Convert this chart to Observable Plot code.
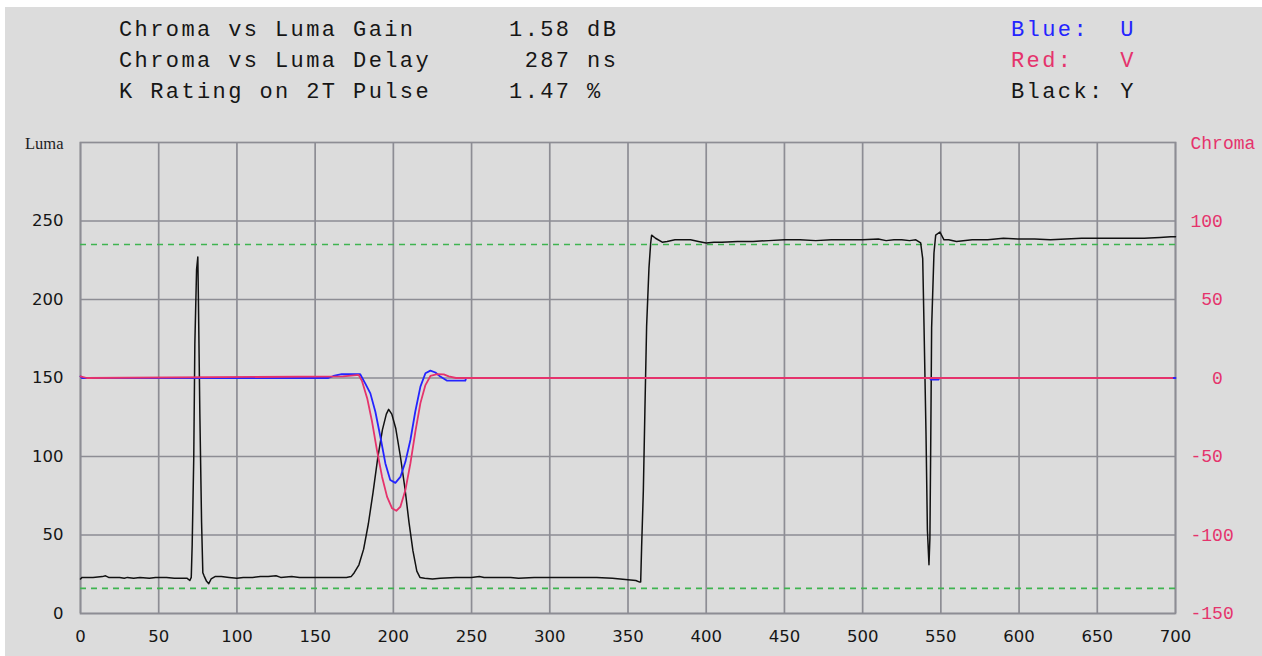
<!DOCTYPE html>
<html>
<head>
<meta charset="utf-8">
<script src="https://cdn.jsdelivr.net/npm/d3@7"></script>
<script src="https://cdn.jsdelivr.net/npm/@observablehq/plot@0.6"></script>
<style>
  html, body { margin: 0; padding: 0; background: #ffffff; width: 1262px; height: 656px; overflow: hidden; }
  #wrap { position: absolute; left: 5px; top: 7px; width: 1257px; height: 649px; background: #dcdcdc; }
  #header { position: relative; height: 113px; font-family: "Liberation Mono", monospace; font-size: 22px; letter-spacing: 2.4px; line-height: 22px; }
  .ln { position: absolute; white-space: pre; color: #161616; }
  #chart svg { display: block; }
</style>
</head>
<body>
<div id="wrap">
  <div id="header"></div>
  <div id="chart"></div>
</div>
<script>
// ---------- data ----------
const statLines = [
  "Chroma vs Luma Gain      1.58 dB",
  "Chroma vs Luma Delay      287 ns",
  "K Rating on 2T Pulse     1.47 %"
];
const legendLines = ["Blue:  U", "Red:   V", "Black: Y"];
const legendColors = ["#2424ff", "#e5336c", "#161616"];

const xTicks = [0, 50, 100, 150, 200, 250, 300, 350, 400, 450, 500, 550, 600, 650, 700];
const lumaTicks = [0, 50, 100, 150, 200, 250];
const chromaTicks = [-150, -100, -50, 0, 50, 100];
const chromaOffset = 150;           // chroma 0 sits at luma 150
const refLevels = [16, 235];        // green dashed reference levels

// Luma (Y) trace
const lumaX = [0, 1, 8, 14, 16, 18, 25, 28, 30, 34, 38, 44, 48, 55, 60, 64, 68, 69.9, 70.8, 71.4, 72.4, 73.1, 74.2, 75.0, 75.4, 76.3, 77.4, 78.2, 79, 80.6, 82, 83.5, 86, 90, 95, 100, 104, 110, 115, 120, 125, 128, 135, 140, 145, 150, 160, 170, 173,
  175, 178, 181, 184, 187, 190, 193, 195.5, 197, 199, 201.5, 204.5, 207.5, 210, 212.5, 215, 217, 220, 225, 230, 240, 250, 255, 258, 265, 275, 280, 290, 300, 310, 320, 330, 340, 345, 350, 355, 357.5,
  358.1, 358.7, 359.8, 360.8, 361.9, 363.4, 364.5, 365.1, 367.6, 371.9, 375, 380, 385, 390, 395, 400, 405, 410, 420, 430, 440, 450, 460, 470, 480, 490, 500, 510, 515, 520, 525, 530, 534,
  537.1, 538.4, 539.2, 540.5, 541.4, 542.4, 543, 543.5, 544.1, 545.6, 546.7, 549.4, 552, 555, 560, 570, 580, 590, 600, 610, 620, 630, 640, 650, 660, 670, 680, 690, 697, 700];
const lumaY = [22, 23, 23, 23.5, 24, 23, 23, 22.5, 23, 22.5, 23, 22.5, 23, 23, 22.5, 22.5, 22.5, 21, 23, 44, 99, 172, 219, 227, 198, 127, 58, 26, 24, 20.5, 19, 22, 23.5, 23.5, 23, 22.5, 23, 23, 23.5, 23.5, 24, 23, 23.5, 23, 23, 23, 23, 23, 23.5,
  26, 31, 41, 57, 77, 99, 117, 127, 130, 127, 118, 100, 79, 58, 40, 27, 23, 22.5, 22, 22.5, 23, 23, 23.5, 23, 23, 23, 22.5, 23, 23, 23, 23, 23, 22.5, 22, 21.5, 21, 20,
  20, 42, 78, 129, 183, 220, 236, 241, 239, 236.5, 237, 238, 238, 238, 237, 236, 236.5, 236.5, 237, 237, 237.5, 238, 238, 237.5, 238, 238, 238, 238.5, 237.5, 238, 238, 237.5, 238,
  236, 226, 185, 115, 53, 31, 48, 105, 182, 229.6, 241, 243, 238, 238, 237, 238, 238, 239, 238.5, 238.5, 238, 238.5, 239, 239, 239, 239, 239, 239.5, 240, 240];

// U (blue) chroma trace
const uX = [0, 1, 158.5, 161.7, 167, 178.8, 182, 185.3, 188.5, 191.7, 194.9, 198, 201.3, 204.5, 207.7, 210.9, 214, 217.3, 220.5, 223.7, 226.9, 230, 234.4, 246, 246.5, 543, 543.5, 548.5, 549, 700];
const uY = [1, 0, 0, 1.3, 2.4, 2.4, -3.4, -9.8, -21.5, -37.4, -54.4, -65, -66.8, -63, -53.4, -39.5, -21.5, -5.5, 3, 4.7, 3.5, 0.9, -1.7, -1.7, 0, 0, -1, -1, 0, 0];

// V (red) chroma trace
const vX = [0, 4, 168, 173, 177.8, 180, 183.3, 186.4, 189.5, 192.8, 196, 199.2, 201.9, 204.5, 207.7, 210.9, 214.1, 217.3, 220.5, 223.7, 228, 232.2, 235.4, 240, 698];
const vY = [1, 0, 1, 1.5, 2, -2, -13, -27.9, -46, -63, -75.7, -83, -84.6, -82, -71.4, -54.4, -34, -16, -4.5, 1.3, 2.5, 2.3, 1, 0, 0];

// ---------- header ----------
const header = document.getElementById("header");
const baseTops = [13, 44, 75];
statLines.forEach((t, i) => {
  const d = document.createElement("div");
  d.className = "ln"; d.textContent = t;
  d.style.left = "114px"; d.style.top = baseTops[i] + "px";
  header.appendChild(d);
});
legendLines.forEach((t, i) => {
  const d = document.createElement("div");
  d.className = "ln"; d.textContent = t;
  d.style.left = "1006px"; d.style.top = baseTops[i] + "px";
  d.style.color = legendColors[i];
  header.appendChild(d);
});

// ---------- chart ----------
const yData = lumaX.map((x, i) => ({x, y: lumaY[i]}));
const uData = uX.map((x, i) => ({x, y: uY[i] + chromaOffset}));
const vData = vX.map((x, i) => ({x, y: vY[i] + chromaOffset}));

const gridColor = "#8d8d94";
const pink = "#e5336c";
const pad3 = (s) => { s = String(s); while (s.length < 3) s = "\u00A0" + s; return s; };

const chart = Plot.plot({
  width: 1257,
  height: 536,
  marginLeft: 75,
  marginRight: 87,
  marginTop: 22,
  marginBottom: 43,
  style: {background: "transparent", color: "#161616", fontFamily: "DejaVu Sans", fontSize: "16.5px"},
  x: {domain: [0, 700], label: null},
  y: {domain: [0, 300], label: null},
  marks: [
    Plot.gridX(xTicks, {stroke: gridColor, strokeOpacity: 1, strokeWidth: 1.7}),
    Plot.gridY(lumaTicks, {stroke: gridColor, strokeOpacity: 1, strokeWidth: 1.7}),
    Plot.frame({stroke: gridColor, strokeWidth: 1.7}),
    Plot.ruleY(refLevels, {stroke: "#3fb450", strokeWidth: 1.6, strokeDasharray: "6,5"}),
    Plot.axisX(xTicks, {tickSize: 0, tickPadding: 17, label: null, fontSize: 16.5, fontFamily: "DejaVu Sans", fill: "#161616"}),
    Plot.axisY(lumaTicks, {anchor: "left", tickSize: 0, tickPadding: 17, label: null, fontSize: 16.5, fontFamily: "DejaVu Sans", fill: "#161616"}),
    Plot.axisY(chromaTicks.map(c => c + chromaOffset), {
      anchor: "right", tickSize: 0, tickPadding: 15, label: null,
      tickFormat: d => pad3(d - chromaOffset),
      fill: pink, fontFamily: "Liberation Mono", fontSize: 18, textAnchor: "start"
    }),
    Plot.line(yData, {x: "x", y: "y", stroke: "#111111", strokeWidth: 1.5}),
    Plot.line(uData, {x: "x", y: "y", stroke: "#2424ff", strokeWidth: 1.8}),
    Plot.line(vData, {x: "x", y: "y", stroke: pink, strokeWidth: 1.8}),
    Plot.text(["Luma"], {text: d => d, frameAnchor: "top-left", textAnchor: "end", lineAnchor: "middle", dx: -17, dy: 1, fontFamily: "Liberation Serif", fontSize: 16.5, fill: "#1e1e1e"}),
    Plot.text(["Chroma"], {text: d => d, frameAnchor: "top-right", textAnchor: "start", lineAnchor: "middle", dx: 15, dy: 1, fontFamily: "Liberation Mono", fontSize: 18, fill: pink})
  ]
});
document.getElementById("chart").appendChild(chart);
</script>
</body>
</html>
